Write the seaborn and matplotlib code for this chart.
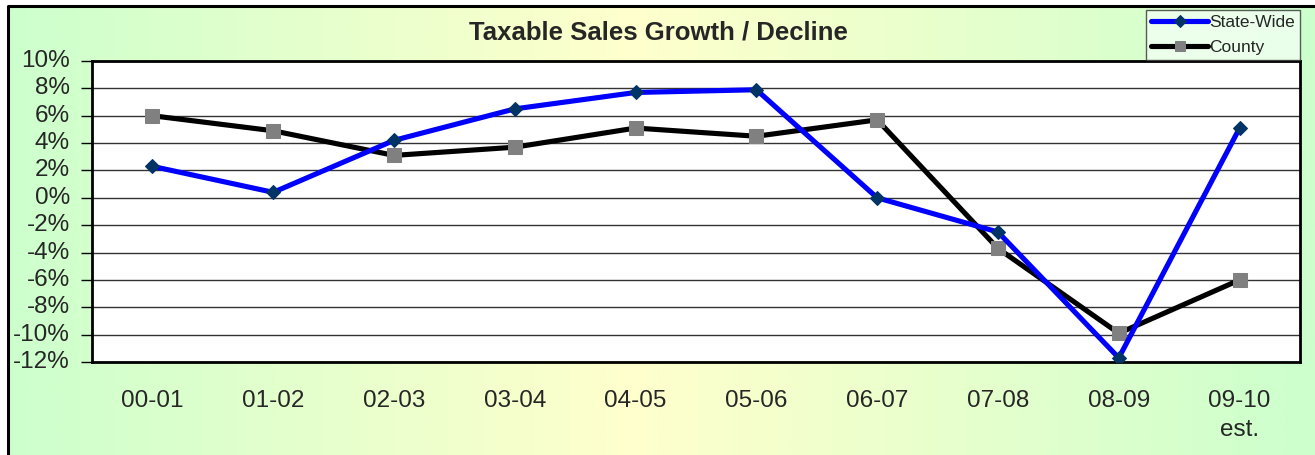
import numpy as np
import pandas as pd
import matplotlib
matplotlib.use('agg')
import matplotlib.pyplot as plt  # noqa
from matplotlib.colors import LinearSegmentedColormap
from matplotlib.patches import Rectangle
from matplotlib.ticker import FuncFormatter, MultipleLocator
import seaborn as sns

categories = ["00-01", "01-02", "02-03", "03-04", "04-05",
              "05-06", "06-07", "07-08", "08-09", "09-10\nest."]
state_wide = [2.3, 0.4, 4.2, 6.5, 7.7, 7.9, 0.0, -2.5, -11.7, 5.1]
county = [6.0, 4.9, 3.1, 3.7, 5.1, 4.5, 5.7, -3.7, -9.9, -6.0]

sns.set_theme(style="white")
plt.rcParams['font.family'] = ['Liberation Sans', 'DejaVu Sans']

W, H = 1315, 455
fig = plt.figure(figsize=(W / 100, H / 100), dpi=100)

# background gradient green -> yellow -> green
bg = fig.add_axes([0, 0, 1, 1], zorder=-10)
grad = LinearSegmentedColormap.from_list(
    "bg", [(0, "#ccffcc"), (0.48, "#ffffcc"), (1, "#ccffcc")])
bg.imshow(np.linspace(0, 1, 512)[None, :], aspect="auto", cmap=grad,
          extent=[0, 1, 0, 1])
bg.set_xlim(0, 1)
bg.set_ylim(0, 1)
bg.axis("off")
# white strip at the very top, outside the chart frame
bg.add_patch(Rectangle((0, 1 - 6 / H), 1, 6 / H, color="white", zorder=2))
bg.add_patch(Rectangle((0, 1 - 6 / H), 8 / W, -1, color="white", zorder=2))
bg.plot([8 / W, 8 / W, 1.01], [-0.01, 1 - 6 / H, 1 - 6 / H], color="black",
        lw=2.2, zorder=3, clip_on=False)

ax = fig.add_axes([92 / W, 1 - 362 / H, 1208 / W, 301 / H])
ax.set_facecolor("white")

df = pd.DataFrame({"pos": np.arange(len(categories)),
                   "State-Wide": state_wide, "County": county})

sns.lineplot(data=df, x="pos", y="County", ax=ax, color="black", lw=3.7,
             marker="s", markersize=9.5, markerfacecolor="#808080",
             markeredgecolor="#808080", label="County", zorder=3)
sns.lineplot(data=df, x="pos", y="State-Wide", ax=ax, color="#0000ff", lw=3.7,
             marker="D", markersize=7.5, markerfacecolor="#003366",
             markeredgecolor="#003366", label="State-Wide", zorder=4)

ax.set_xlim(-0.5, len(categories) - 0.5)
ax.set_ylim(-12, 10)
ax.yaxis.set_major_locator(MultipleLocator(2))
ax.yaxis.set_major_formatter(FuncFormatter(lambda v, p: f"{v:.0f}%"))
ax.set_xticks(df["pos"])
ax.set_xticklabels(categories, fontsize=17.5, linespacing=1.45, va="top")
ax.tick_params(axis="x", length=0, pad=20)
ax.tick_params(axis="y", length=8, width=1, color="black", direction="out",
               left=True, labelsize=17.5, pad=8)
for lbl in ax.get_yticklabels():
    lbl.set_verticalalignment("center")
ax.grid(axis="y", color="#333333", lw=1)
ax.set_axisbelow(True)
for s in ax.spines.values():
    s.set_color("black")
    s.set_linewidth(2)
ax.set_xlabel("")
ax.set_ylabel("")

fig.text(658 / W, 1 - 33 / H, "Taxable Sales Growth / Decline",
         ha="center", va="center", fontsize=18.5, fontweight="bold")

handles, labels = ax.get_legend_handles_labels()
order = [labels.index("State-Wide"), labels.index("County")]
leg = ax.legend([handles[i] for i in order], [labels[i] for i in order],
                loc="upper right", bbox_to_anchor=(1300 / W, 1 - 10 / H),
                bbox_transform=fig.transFigure, fontsize=12.5, frameon=True,
                fancybox=False, handlelength=3.3, handletextpad=0.05,
                borderpad=0.3, labelspacing=0.55, borderaxespad=0,
                markerscale=0.8)
leg.get_frame().set_facecolor("#f2fff2")
leg.get_frame().set_edgecolor("#333333")
leg.get_frame().set_linewidth(1)
leg.set_zorder(10)

fig.savefig("out.png", dpi=100)
